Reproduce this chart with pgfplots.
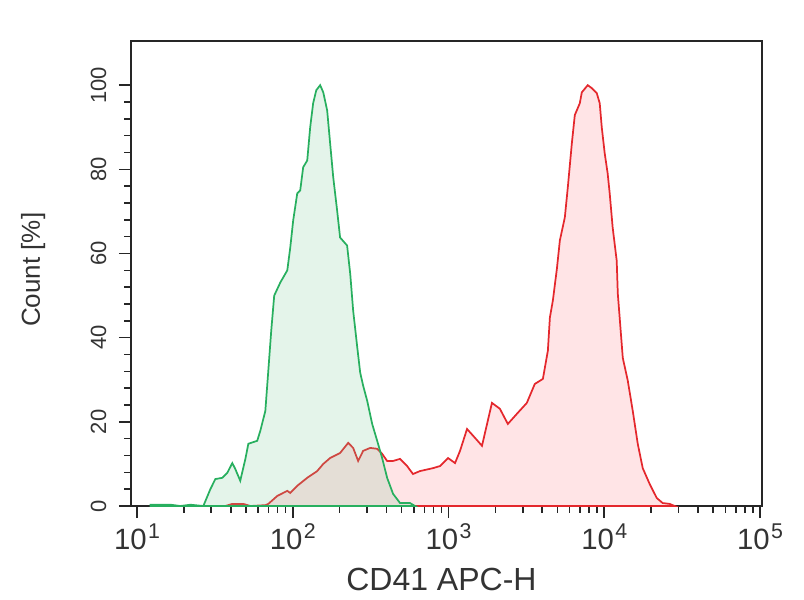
\documentclass[border=0pt]{standalone}
\usepackage{fontspec}
\setmainfont{Liberation Sans}
\usepackage{graphicx}
\usepackage{pgfplots}
\pgfplotsset{compat=1.18}
\usepackage{pgfplotstable}

\definecolor{gline}{RGB}{40,175,95}
\definecolor{gfill}{RGB}{120,200,150}
\definecolor{rline}{RGB}{228,40,45}
\definecolor{rfill}{RGB}{255,130,140}

\newcommand{\xtl}[1]{10\kern1pt\raisebox{8pt}{\fontsize{16pt}{18pt}\selectfont #1}}

% log10(fluorescence)  count(%)
\pgfplotstableread{
lx y
1.087 0.3
1.215 0.3
1.279 0.0
1.343 0.3
1.426 0.0
1.471 4.0
1.503 6.4
1.548 6.7
1.580 7.9
1.612 10.2
1.631 8.8
1.663 6.0
1.696 11.2
1.715 14.8
1.772 15.5
1.792 17.9
1.824 22.6
1.843 32.1
1.862 41.7
1.881 50.0
1.920 53.1
1.965 56.0
1.984 61.4
2.003 67.9
2.029 74.3
2.048 75.0
2.067 80.5
2.093 82.1
2.112 90.0
2.131 95.7
2.151 98.8
2.176 100
2.196 98.3
2.221 94.0
2.240 86.2
2.260 78.1
2.285 70.2
2.304 63.8
2.349 61.9
2.369 55.2
2.388 46.4
2.413 38.1
2.433 31.7
2.452 28.6
2.478 25.0
2.510 19.5
2.542 15.5
2.574 11.4
2.606 6.7
2.644 2.9
2.689 0.7
2.753 0.7
2.785 0.0
}\greendata

\pgfplotstableread{
lx y
1.567 0.0
1.612 0.5
1.683 0.5
1.728 0.0
1.824 0.2
1.843 0.5
1.901 2.4
1.965 3.6
1.984 3.1
2.029 4.8
2.093 6.7
2.157 8.3
2.196 10.0
2.240 11.4
2.304 12.6
2.356 15.0
2.388 13.8
2.420 10.7
2.452 13.1
2.497 13.8
2.542 13.6
2.574 12.4
2.606 10.7
2.644 10.7
2.689 11.2
2.734 9.5
2.772 7.6
2.817 8.3
2.901 9.0
2.946 9.5
2.997 11.4
3.042 10.2
3.074 13.1
3.119 18.3
3.170 16.2
3.215 14.3
3.279 24.5
3.330 23.1
3.381 19.5
3.439 21.9
3.503 24.5
3.554 29.0
3.606 30.2
3.638 36.9
3.651 44.8
3.670 48.8
3.696 56.4
3.715 63.1
3.747 68.6
3.766 75.7
3.792 86.2
3.811 92.9
3.843 95.7
3.856 98.3
3.894 100
3.920 99.3
3.952 98.1
3.971 95.7
3.984 90.0
4.003 83.8
4.022 79.0
4.035 74.3
4.054 66.2
4.080 58.3
4.087 50.5
4.119 35.2
4.151 29.8
4.183 22.6
4.215 14.8
4.247 9.0
4.292 5.2
4.337 1.9
4.375 0.7
4.420 0.5
4.452 0.0
}\reddata

\begin{document}
\begin{tikzpicture}
\begin{axis}[
  scale only axis,
  width=473.25pt, height=348.75pt,
  xmin=0.9615, xmax=5.0128,
  ymin=0, ymax=110.5,
  axis line style={line width=1.5pt, black!85},
  every tick/.style={line width=1.2pt, black!85},
  tick align=outside,
  xtick pos=bottom, ytick pos=left,
  major tick length=9pt,
  minor tick length=5pt,
  xtick={1,2,3,4,5},
  xticklabels={\xtl{1},\xtl{2},\xtl{3},\xtl{4},\xtl{5}},
  minor xtick={1.301,1.477,1.602,1.699,1.778,1.845,1.903,1.954,
               2.301,2.477,2.602,2.699,2.778,2.845,2.903,2.954,
               3.301,3.477,3.602,3.699,3.778,3.845,3.903,3.954,
               4.301,4.477,4.602,4.699,4.778,4.845,4.903,4.954},
  ytick={0,20,40,60,80,100},
  yticklabels={0,20,40,60,80,100},
  minor y tick num=4,
  xticklabel style={font=\fontsize{22pt}{24pt}\selectfont, text=black!80, yshift=-1pt},
  yticklabel style={font=\fontsize{16.5pt}{20pt}\selectfont, text=black!80, xshift=-6pt, rotate=90, anchor=south},
  xlabel={CD41 APC-H},
  ylabel={Count [\%]},
  xlabel style={font=\fontsize{24pt}{28pt}\selectfont, text=black!80, at={(axis description cs:0.492,-0.157)}, anchor=center},
  ylabel style={font=\fontsize{19.5pt}{24pt}\selectfont, text=black!80, at={(axis description cs:-0.155,0.508)}, anchor=center},
  clip=true,
]
\addplot[draw=rline, line width=1.3pt, fill=rfill, fill opacity=0.22] table[x=lx, y=y] {\reddata} \closedcycle;
\addplot[draw=gline, line width=1.3pt, fill=gfill, fill opacity=0.2] table[x=lx, y=y] {\greendata} \closedcycle;
\end{axis}
\path (-98.25pt,-70.5pt) rectangle (504.75pt,379.5pt);
\end{tikzpicture}
\end{document}
